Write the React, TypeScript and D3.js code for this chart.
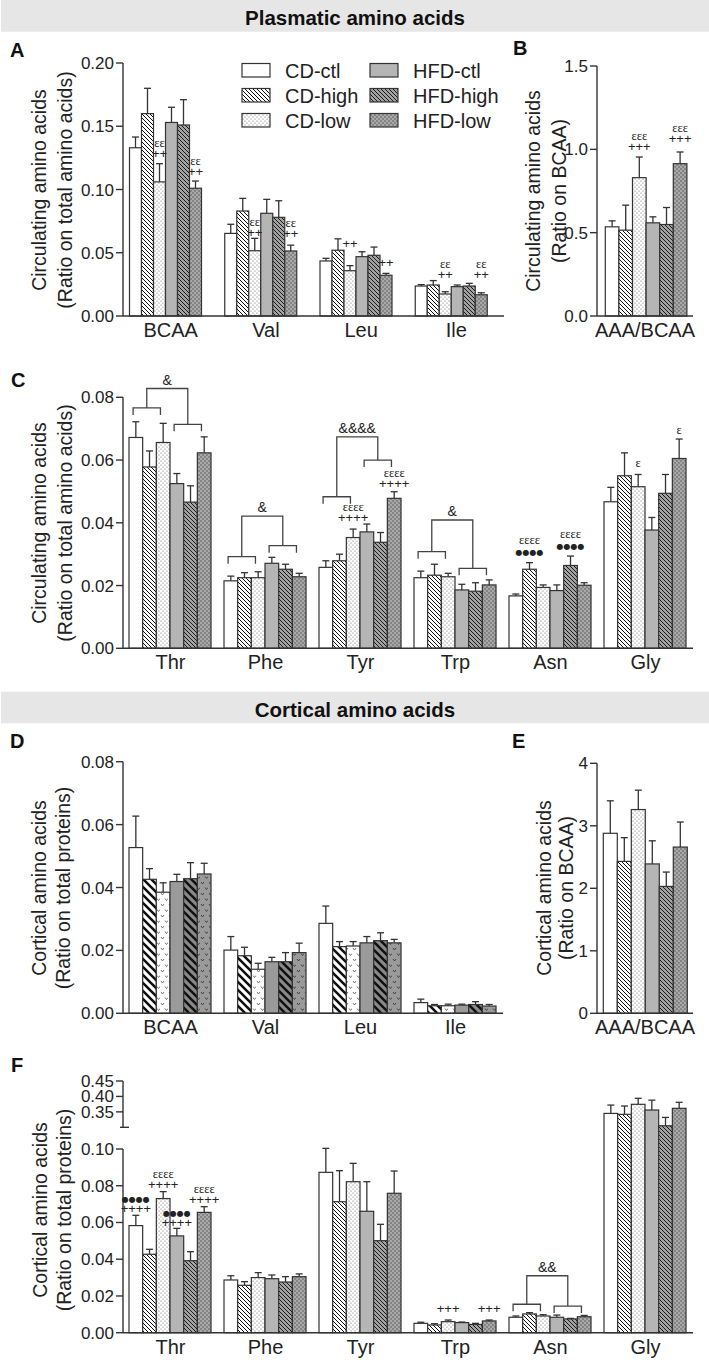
import React from 'react';
import * as d3 from 'd3';

const FONT = 'Liberation Sans, Arial, Helvetica, sans-serif';

const groups = ['CD-ctl', 'CD-high', 'CD-low', 'HFD-ctl', 'HFD-high', 'HFD-low'];

// Plasmatic - A
const catsA = ['BCAA', 'Val', 'Leu', 'Ile'];
const meanA = [
  [0.133, 0.160, 0.106, 0.153, 0.151, 0.101],
  [0.0653, 0.083, 0.0516, 0.0812, 0.078, 0.0514],
  [0.0435, 0.052, 0.0358, 0.0469, 0.048, 0.0322],
  [0.0237, 0.0245, 0.0174, 0.0232, 0.0237, 0.0168],
];
const semA = [
  [0.0085, 0.020, 0.0144, 0.012, 0.020, 0.0057],
  [0.0072, 0.010, 0.0098, 0.011, 0.0131, 0.0046],
  [0.0021, 0.009, 0.004, 0.0039, 0.0065, 0.0015],
  [0.0011, 0.0035, 0.0018, 0.0013, 0.0021, 0.0016],
];
const ticksA = [0, 0.05, 0.1, 0.15, 0.2];

// Plasmatic - B
const catsB = ['AAA/BCAA'];
const meanB = [[0.535, 0.515, 0.83, 0.559, 0.549, 0.914]];
const semB = [[0.036, 0.15, 0.124, 0.036, 0.102, 0.07]];
const ticksB = [0, 0.5, 1.0, 1.5];

// Plasmatic - C
const catsC = ['Thr', 'Phe', 'Tyr', 'Trp', 'Asn', 'Gly'];
const meanC = [
  [0.0672, 0.0578, 0.0656, 0.0525, 0.0466, 0.0623],
  [0.0215, 0.0225, 0.0225, 0.0271, 0.0252, 0.0228],
  [0.0258, 0.0279, 0.0353, 0.0371, 0.0338, 0.0478],
  [0.0225, 0.0233, 0.0228, 0.0186, 0.0182, 0.0202],
  [0.0167, 0.0252, 0.0194, 0.0184, 0.0264, 0.0201],
  [0.0467, 0.055, 0.0515, 0.0377, 0.0494, 0.0605],
];
const semC = [
  [0.005, 0.0051, 0.0061, 0.0032, 0.0052, 0.0051],
  [0.0015, 0.0016, 0.0019, 0.0019, 0.0016, 0.0011],
  [0.0021, 0.0021, 0.0027, 0.0025, 0.0031, 0.0021],
  [0.0021, 0.0035, 0.0011, 0.0018, 0.0027, 0.0016],
  [0.0006, 0.0021, 0.0008, 0.0018, 0.003, 0.0008],
  [0.0046, 0.0073, 0.0039, 0.004, 0.006, 0.0062],
];
const ticksC = [0, 0.02, 0.04, 0.06, 0.08];

// Cortical - D
const catsD = ['BCAA', 'Val', 'Leu', 'Ile'];
const meanD = [
  [0.0527, 0.0426, 0.0385, 0.0419, 0.0428, 0.0443],
  [0.0201, 0.0183, 0.014, 0.0164, 0.0164, 0.0193],
  [0.0286, 0.0212, 0.0214, 0.0224, 0.0231, 0.0224],
  [0.0034, 0.0024, 0.0024, 0.0026, 0.0028, 0.0023],
];
const semD = [
  [0.01, 0.0034, 0.003, 0.0023, 0.0051, 0.0034],
  [0.0043, 0.0027, 0.0019, 0.0014, 0.0029, 0.003],
  [0.0055, 0.0016, 0.0014, 0.002, 0.0025, 0.0011],
  [0.0011, 0.0004, 0.0005, 0.0003, 0.0009, 0.0005],
];
const ticksD = [0, 0.02, 0.04, 0.06, 0.08];

// Cortical - E
const catsE = ['AAA/BCAA'];
const meanE = [[2.88, 2.43, 3.26, 2.39, 2.03, 2.66]];
const semE = [[0.52, 0.38, 0.31, 0.37, 0.23, 0.4]];
const ticksE = [0, 1, 2, 3, 4];

// Cortical - F
const catsF = ['Thr', 'Phe', 'Tyr', 'Trp', 'Asn', 'Gly'];
const meanF = [
  [0.0583, 0.0427, 0.073, 0.0527, 0.0392, 0.0655],
  [0.0287, 0.0258, 0.03, 0.0294, 0.0276, 0.0305],
  [0.0873, 0.0713, 0.0822, 0.0661, 0.0501, 0.0759],
  [0.0051, 0.0042, 0.006, 0.0055, 0.0045, 0.0064],
  [0.0084, 0.0102, 0.0091, 0.0084, 0.0075, 0.0087],
  [0.345, 0.342, 0.3745, 0.356, 0.305, 0.3615],
];
const semF = [
  [0.0056, 0.0027, 0.0038, 0.0041, 0.0049, 0.0031],
  [0.0023, 0.002, 0.0027, 0.002, 0.0029, 0.0015],
  [0.0185, 0.0169, 0.01, 0.0161, 0.0089, 0.0121],
  [0.0006, 0.0007, 0.0009, 0.0003, 0.0006, 0.0005],
  [0.0007, 0.0007, 0.0007, 0.0012, 0.0003, 0.0007],
  [0.027, 0.027, 0.0195, 0.032, 0.027, 0.0195],
];
const ticksF = [0, 0.02, 0.04, 0.06, 0.08, 0.1, 0.35, 0.4, 0.45];

// significance marks: bar (category, group), text lines, level of the lowest line
type Annot = { cat: string; g: number; lines: string[]; at: number };
const annotA: Annot[] = [
  { cat: 'BCAA', g: 2, lines: ['εε', '++'], at: 0.125 },
  { cat: 'BCAA', g: 5, lines: ['εε', '++'], at: 0.111 },
  { cat: 'Val', g: 2, lines: ['εε', '++'], at: 0.0628 },
  { cat: 'Val', g: 5, lines: ['εε', '++'], at: 0.062 },
  { cat: 'Leu', g: 2, lines: ['++'], at: 0.0534 },
  { cat: 'Leu', g: 5, lines: ['++'], at: 0.0391 },
  { cat: 'Ile', g: 2, lines: ['εε', '++'], at: 0.0296 },
  { cat: 'Ile', g: 5, lines: ['εε', '++'], at: 0.0296 },
];
const annotB: Annot[] = [
  { cat: 'AAA/BCAA', g: 2, lines: ['εεε', '+++'], at: 0.991 },
  { cat: 'AAA/BCAA', g: 5, lines: ['εεε', '+++'], at: 1.039 },
];
const annotC: Annot[] = [
  { cat: 'Tyr', g: 2, lines: ['εεεε', '++++'], at: 0.0401 },
  { cat: 'Tyr', g: 5, lines: ['εεεε', '++++'], at: 0.0512 },
  { cat: 'Asn', g: 1, lines: ['εεεε', '●●●●'], at: 0.0297 },
  { cat: 'Asn', g: 4, lines: ['εεεε', '●●●●'], at: 0.0318 },
  { cat: 'Gly', g: 2, lines: ['ε'], at: 0.0579 },
  { cat: 'Gly', g: 5, lines: ['ε'], at: 0.0682 },
];
const annotF: Annot[] = [
  { cat: 'Thr', g: 0, lines: ['●●●●', '++++'], at: 0.0652 },
  { cat: 'Thr', g: 2, lines: ['εεεε', '++++'], at: 0.078 },
  { cat: 'Thr', g: 3, lines: ['●●●●', '++++'], at: 0.0578 },
  { cat: 'Thr', g: 5, lines: ['εεεε', '++++'], at: 0.0698 },
  { cat: 'Trp', g: 2, lines: ['+++'], at: 0.0105 },
  { cat: 'Trp', g: 5, lines: ['+++'], at: 0.0105 },
];

// diet-effect brackets: CD (groups 0-2) vs HFD (groups 3-5)
type Bracket = { cat: string; label: string; top: number; left: number; right: number };
const bracketsC: Bracket[] = [
  { cat: 'Thr', label: '&', top: 0.0828, left: 0.0766, right: 0.0714 },
  { cat: 'Phe', label: '&', top: 0.0421, left: 0.0292, right: 0.0327 },
  { cat: 'Tyr', label: '&&&&', top: 0.0674, left: 0.0483, right: 0.06 },
  { cat: 'Trp', label: '&', top: 0.0409, left: 0.0308, right: 0.0255 },
];
const bracketsF: Bracket[] = [
  { cat: 'Asn', label: '&&', top: 0.031, left: 0.0155, right: 0.0145 },
];

const fineFills = ['#ffffff', 'url(#hatchFine)', 'url(#dotFine)', '#b5b5b5', 'url(#hatchFineDark)', 'url(#dotFineDark)'];
const boldFills = ['#ffffff', 'url(#hatchBold)', 'url(#vWhite)', '#9a9a9a', 'url(#hatchBoldDark)', 'url(#vDark)'];

const INK = '#333';

type PanelProps = {
  cats: string[];
  means: number[][];
  sems: number[][];
  y: d3.ScaleLinear<number, number>;
  ticks: number[];
  fmt: (v: number) => string;
  segments: [number, number][];
  xStart: number;
  xEnd: number;
  barW: number;
  padL: number;
  fills: string[];
  title: string[];
  titleX: number[];
  titleY: number;
  annots?: Annot[];
  brackets?: Bracket[];
  breakAt?: number;
};

function markStyle(s: string) {
  if (s.includes('ε')) return { fontSize: 12.5, fontFamily: 'Liberation Serif, serif' };
  if (s.includes('●')) return { fontSize: 8, fontFamily: 'DejaVu Sans, sans-serif' };
  return { fontSize: 13, fontFamily: FONT };
}

function Panel(p: PanelProps) {
  const x0 = d3.scaleBand().domain(p.cats).range([p.xStart, p.xEnd]);
  const x1 = d3.scaleBand().domain(groups).range([p.padL, p.padL + p.barW * groups.length]);
  const bw = x1.bandwidth();
  const y = p.y;
  const y0 = y(0);
  const barX = (cat: string, g: number) => (x0(cat) as number) + (x1(groups[g]) as number);

  return (
    <g>
      {p.cats.map((cat, i) =>
        groups.map((gName, j) => {
          const x = barX(cat, j);
          const m = p.means[i][j];
          const top = y(m);
          const eTop = y(m + p.sems[i][j]);
          const cx = x + bw / 2;
          return (
            <g key={cat + gName}>
              <line x1={cx} x2={cx} y1={top} y2={eTop} stroke={INK} strokeWidth={1.3} />
              <line x1={cx - 3.5} x2={cx + 3.5} y1={eTop} y2={eTop} stroke={INK} strokeWidth={1.3} />
              <rect x={x} y={top} width={bw} height={y0 - top} fill={p.fills[j]} stroke={INK} strokeWidth={1.2} />
            </g>
          );
        })
      )}
      {/* y axis */}
      {p.segments.map(([a, b], k) => (
        <line key={'seg' + k} x1={p.xStart} x2={p.xStart} y1={y(a)} y2={y(b)} stroke={INK} strokeWidth={1.4} />
      ))}
      {p.breakAt !== undefined && (
        <line x1={p.xStart - 3} x2={p.xStart + 6} y1={y(p.breakAt)} y2={y(p.breakAt)} stroke={INK} strokeWidth={1.4} />
      )}
      {p.ticks.map((t) => (
        <g key={'t' + t}>
          <line x1={p.xStart - 7} x2={p.xStart} y1={y(t)} y2={y(t)} stroke={INK} strokeWidth={1.4} />
          <text x={p.xStart - 9} y={y(t) + 6} textAnchor="end" fontSize={17} fill="#222">
            {p.fmt(t)}
          </text>
        </g>
      ))}
      {/* x axis */}
      <line x1={p.xStart} x2={p.xEnd} y1={y0} y2={y0} stroke={INK} strokeWidth={1.4} />
      {p.cats.map((cat) => (
        <text key={'c' + cat} x={(x0(cat) as number) + x0.bandwidth() / 2} y={y0 + 21} textAnchor="middle" fontSize={20} fill="#222">
          {cat}
        </text>
      ))}
      {/* axis title */}
      {p.title.map((s, k) => (
        <text key={'yt' + k} transform={`translate(${p.titleX[k]},${p.titleY}) rotate(-90)`} textAnchor="middle" fontSize={19.5} fill="#222">
          {s}
        </text>
      ))}
      {/* significance marks */}
      {(p.annots || []).map((a, k) => {
        const cx = barX(a.cat, a.g) + bw / 2;
        const base = y(a.at);
        const n = a.lines.length;
        return (
          <g key={'a' + k}>
            {a.lines.map((s, li) => (
              <text key={li} x={cx} y={base - (n - 1 - li) * 11} textAnchor="middle" fill="#222" {...markStyle(s)}>
                {s}
              </text>
            ))}
          </g>
        );
      })}
      {(p.brackets || []).map((b, k) => {
        const off = bw * 0.3;
        const lx1 = barX(b.cat, 0) + off;
        const lx2 = barX(b.cat, 2) + off;
        const rx1 = barX(b.cat, 3) + off;
        const rx2 = barX(b.cat, 5) + off;
        const lm = (lx1 + lx2) / 2;
        const rm = (rx1 + rx2) / 2;
        const yl = y(b.left);
        const yr = y(b.right);
        const yt = y(b.top);
        return (
          <g key={'b' + k} fill="none" stroke="#444" strokeWidth={1.3}>
            <path d={`M${lx1},${yl + 7}V${yl}H${lx2}V${yl + 7}`} />
            <path d={`M${rx1},${yr + 7}V${yr}H${rx2}V${yr + 7}`} />
            <path d={`M${lm},${yl}V${yt}H${rm}V${yr}`} />
            <text x={(lm + rm) / 2} y={yt - 4} textAnchor="middle" fontSize={14} fill="#222" stroke="none">
              {b.label}
            </text>
          </g>
        );
      })}
    </g>
  );
}

export default function App() {
  const f2 = d3.format('.2f');
  const f1 = d3.format('.1f');
  const fd = d3.format('d');

  const yA = d3.scaleLinear().domain([0, 0.2]).range([316, 63]);
  const yB = d3.scaleLinear().domain([0, 1.5]).range([316, 66]);
  const yC = d3.scaleLinear().domain([0, 0.08]).range([648.3, 397.3]);
  const yD = d3.scaleLinear().domain([0, 0.08]).range([1013.3, 761.7]);
  const yE = d3.scaleLinear().domain([0, 4]).range([1013.3, 763.3]);
  const yF = d3.scaleLinear().domain([0, 0.1, 0.3, 0.45]).range([1332.7, 1149, 1127.3, 1081]);

  const letter = (s: string, x: number, y: number) => (
    <text x={x} y={y} fontSize={20} fontWeight="bold" fill="#111">
      {s}
    </text>
  );

  return (
    <svg
      width={709}
      height={1360}
      fontFamily={FONT}
      style={{ position: 'absolute', left: 0, top: 0, display: 'block', background: '#fff' }}
    >
      <defs>
        <pattern id="hatchFine" width={4} height={4} patternUnits="userSpaceOnUse">
          <rect width={4} height={4} fill="#fff" />
          <path d="M0,0L4,4M-1,3L1,5M3,-1L5,1" stroke="#111" strokeWidth={1} />
        </pattern>
        <pattern id="hatchFineDark" width={4} height={4} patternUnits="userSpaceOnUse">
          <rect width={4} height={4} fill="#a2a2a2" />
          <path d="M0,0L4,4M-1,3L1,5M3,-1L5,1" stroke="#1a1a1a" strokeWidth={1} />
        </pattern>
        <pattern id="dotFine" width={4} height={4} patternUnits="userSpaceOnUse">
          <rect width={4} height={4} fill="#fff" />
          <circle cx={1} cy={1} r={0.6} fill="#666" />
          <circle cx={3} cy={3} r={0.6} fill="#666" />
        </pattern>
        <pattern id="dotFineDark" width={4} height={4} patternUnits="userSpaceOnUse">
          <rect width={4} height={4} fill="#a8a8a8" />
          <circle cx={1} cy={1} r={0.65} fill="#444" />
          <circle cx={3} cy={3} r={0.65} fill="#444" />
        </pattern>
        <pattern id="hatchBold" width={8} height={8} patternUnits="userSpaceOnUse">
          <rect width={8} height={8} fill="#fff" />
          <path d="M0,0L8,8M-2,6L2,10M6,-2L10,2" stroke="#111" strokeWidth={2.6} />
        </pattern>
        <pattern id="hatchBoldDark" width={8} height={8} patternUnits="userSpaceOnUse">
          <rect width={8} height={8} fill="#8a8a8a" />
          <path d="M0,0L8,8M-2,6L2,10M6,-2L10,2" stroke="#111" strokeWidth={2.6} />
        </pattern>
        <pattern id="vWhite" width={8} height={11} patternUnits="userSpaceOnUse">
          <rect width={8} height={11} fill="#fff" />
          <path d="M1,2L2.5,4L4,2M5,7.5L6.5,9.5L8,7.5" fill="none" stroke="#777" strokeWidth={1} />
        </pattern>
        <pattern id="vDark" width={8} height={11} patternUnits="userSpaceOnUse">
          <rect width={8} height={11} fill="#9a9a9a" />
          <path d="M1,2L2.5,4L4,2M5,7.5L6.5,9.5L8,7.5" fill="none" stroke="#444" strokeWidth={1} />
        </pattern>
      </defs>

      {/* section headers */}
      <rect x={1} y={0} width={708} height={31.7} fill="#e6e6e6" />
      <text x={355} y={25} textAnchor="middle" fontSize={20.5} fontWeight="bold" fill="#111">
        Plasmatic amino acids
      </text>
      <rect x={1} y={691.7} width={708} height={31.6} fill="#e6e6e6" />
      <text x={355} y={716.5} textAnchor="middle" fontSize={20.5} fontWeight="bold" fill="#111">
        Cortical amino acids
      </text>

      {letter('A', 10, 57)}
      {letter('B', 513, 55)}
      {letter('C', 11, 387)}
      {letter('D', 10, 748)}
      {letter('E', 512, 748)}
      {letter('F', 11, 1072)}

      {/* legend */}
      {groups.map((g, i) => {
        const col = Math.floor(i / 3);
        const row = i % 3;
        const lx = col === 0 ? 242 : 370;
        const ly = 63.5 + row * 25;
        return (
          <g key={'lg' + g}>
            <rect x={lx} y={ly} width={28} height={13.5} fill={fineFills[i]} stroke={INK} strokeWidth={1.2} />
            <text x={lx + 43} y={ly + 14} fontSize={20} fill="#222">
              {g}
            </text>
          </g>
        );
      })}

      <Panel
        cats={catsA} means={meanA} sems={semA} y={yA} ticks={ticksA} fmt={f2}
        segments={[[0, 0.2]]} xStart={123} xEnd={504} barW={12} padL={6.5} fills={fineFills}
        title={['Circulating amino acids', '(Ratio on total amino acids)']} titleX={[46, 72]} titleY={190}
        annots={annotA}
      />
      <Panel
        cats={catsB} means={meanB} sems={semB} y={yB} ticks={ticksB} fmt={f1}
        segments={[[0, 1.5]]} xStart={597} xEnd={693} barW={13.6} padL={8.3} fills={fineFills}
        title={['Circulating amino acids', '(Ratio on BCAA)']} titleX={[540, 566]} titleY={191}
        annots={annotB}
      />
      <Panel
        cats={catsC} means={meanC} sems={semC} y={yC} ticks={ticksC} fmt={f2}
        segments={[[0, 0.08]]} xStart={123} xEnd={693} barW={13.67} padL={6} fills={fineFills}
        title={['Circulating amino acids', '(Ratio on total amino acids)']} titleX={[46, 72]} titleY={523}
        annots={annotC} brackets={bracketsC}
      />
      <Panel
        cats={catsD} means={meanD} sems={semD} y={yD} ticks={ticksD} fmt={f2}
        segments={[[0, 0.08]]} xStart={123} xEnd={503} barW={13.67} padL={6} fills={boldFills}
        title={['Cortical amino acids', '(Ratio on total proteins)']} titleX={[46, 70]} titleY={888}
      />
      <Panel
        cats={catsE} means={meanE} sems={semE} y={yE} ticks={ticksE} fmt={fd}
        segments={[[0, 4]]} xStart={597} xEnd={693} barW={14} padL={6.3} fills={fineFills}
        title={['Cortical amino acids', '(Ratio on BCAA)']} titleX={[551, 573]} titleY={888}
      />
      <Panel
        cats={catsF} means={meanF} sems={semF} y={yF} ticks={ticksF} fmt={f2}
        segments={[[0, 0.1], [0.3, 0.45]]} xStart={123} xEnd={693} barW={13.67} padL={6} fills={fineFills}
        title={['Cortical amino acids', '(Ratio on total proteins)']} titleX={[47, 71]} titleY={1210}
        annots={annotF} brackets={bracketsF} breakAt={0.3}
      />
    </svg>
  );
}
